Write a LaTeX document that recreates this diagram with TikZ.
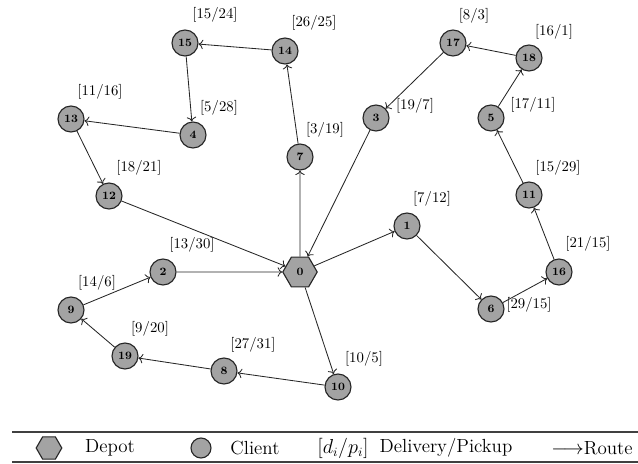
\documentclass[tikz,border=0pt]{standalone}
\usepackage{amssymb, amsmath}
\usetikzlibrary{positioning, arrows.meta, shapes.geometric}

\begin{document}
\begin{tikzpicture}[
  x=0.025cm, y=-0.025cm,
  >={To[scale=1.1]},
  client/.style = {circle, draw=black!85, fill=gray!72, line width=0.8pt, minimum size=0.65cm, inner sep=0pt, font=\footnotesize\bfseries},
  depot/.style  = {regular polygon, regular polygon sides=6, draw=black!85, fill=gray!72, line width=0.8pt, minimum size=0.86cm, inner sep=0pt, font=\footnotesize\bfseries},
  lbl/.style    = {inner sep=0pt, font=\fontsize{10.5}{12}\selectfont},
  leg/.style    = {inner sep=0pt, font=\fontsize{13.5}{15}\selectfont},
  arr/.style    = {->, line width=0.6pt, black!85},
  rule/.style   = {line width=0.8pt, gray!50!black},
]
  \useasboundingbox (0,0) rectangle (638,464);

  % Depot, clients and their [delivery/pickup] labels (pixel positions).
  \node[depot] (n0) at (300,272) {0};
  \foreach \n/\x/\y in {1/407/226, 2/163/272, 3/376/118, 4/193/135, 5/491/118,
                        6/491/309, 7/300/157, 8/224/371, 9/71/310, 10/338/387,
                        11/529/195, 12/109/196, 13/71/119, 14/285/51, 15/185/43,
                        16/559/272, 17/453/43, 18/529/58, 19/125/356}
     \node[client] (n\n) at (\x,\y) {\n};
  \foreach \n/\x/\y/\d/\p in {1/432/199/7/12, 2/192/245/13/30, 3/415/106/19/7,
                              4/219/108/5/28, 5/533/105/17/11, 6/529/305/29/15,
                              7/325/130/3/19, 8/253/345/27/31, 9/97/283/14/6,
                              10/364/359/10/5, 11/558/168/15/29, 12/139/168/18/21,
                              13/100/92/11/16, 14/314/23/26/25, 15/215/15/15/24,
                              16/588/244/21/15, 17/474/16/8/3, 18/554/32/16/1,
                              19/150/329/9/20}
     \node[lbl] (l\n) at (\x,\y) {[\d/\p]};

  % Three routes out of the depot and back.
  \foreach \a/\b in {n0/n7, n7/n14, n14/n15, n15/n4, n4/n13, n13/n12, n12/n0,
                     n0/n1, n1/n6, n6/n16, n16/n11, n11/n5, n5/n18, n18/n17, n17/n3, n3/n0,
                     n0/n10, n10/n8, n8/n19, n19/n9, n9/n2, n2/n0}
     \draw[arr] (\a) -- (\b);

  % Legend strip.
  \draw[rule] (12,432) -- (638,432);
  \draw[rule, line width=1.2pt] (12,462) -- (638,462);
  \node[depot, minimum size=0.64cm] (ldepot) at (49,448) {};
  \node[leg] (tdepot) at (110,448) {Depot};
  \node[client, minimum size=0.5cm] (lclient) at (201,448) {};
  \node[leg] (tclient) at (255,448) {Client};
  \node[leg] (tdp) at (343,448) {$[d_i/p_i]$};
  \node[leg] (tdel) at (446,448) {Delivery/Pickup};
  \node[leg, anchor=west] (troute) at (551,448) {$\longrightarrow$Route};
\end{tikzpicture}
\end{document}
